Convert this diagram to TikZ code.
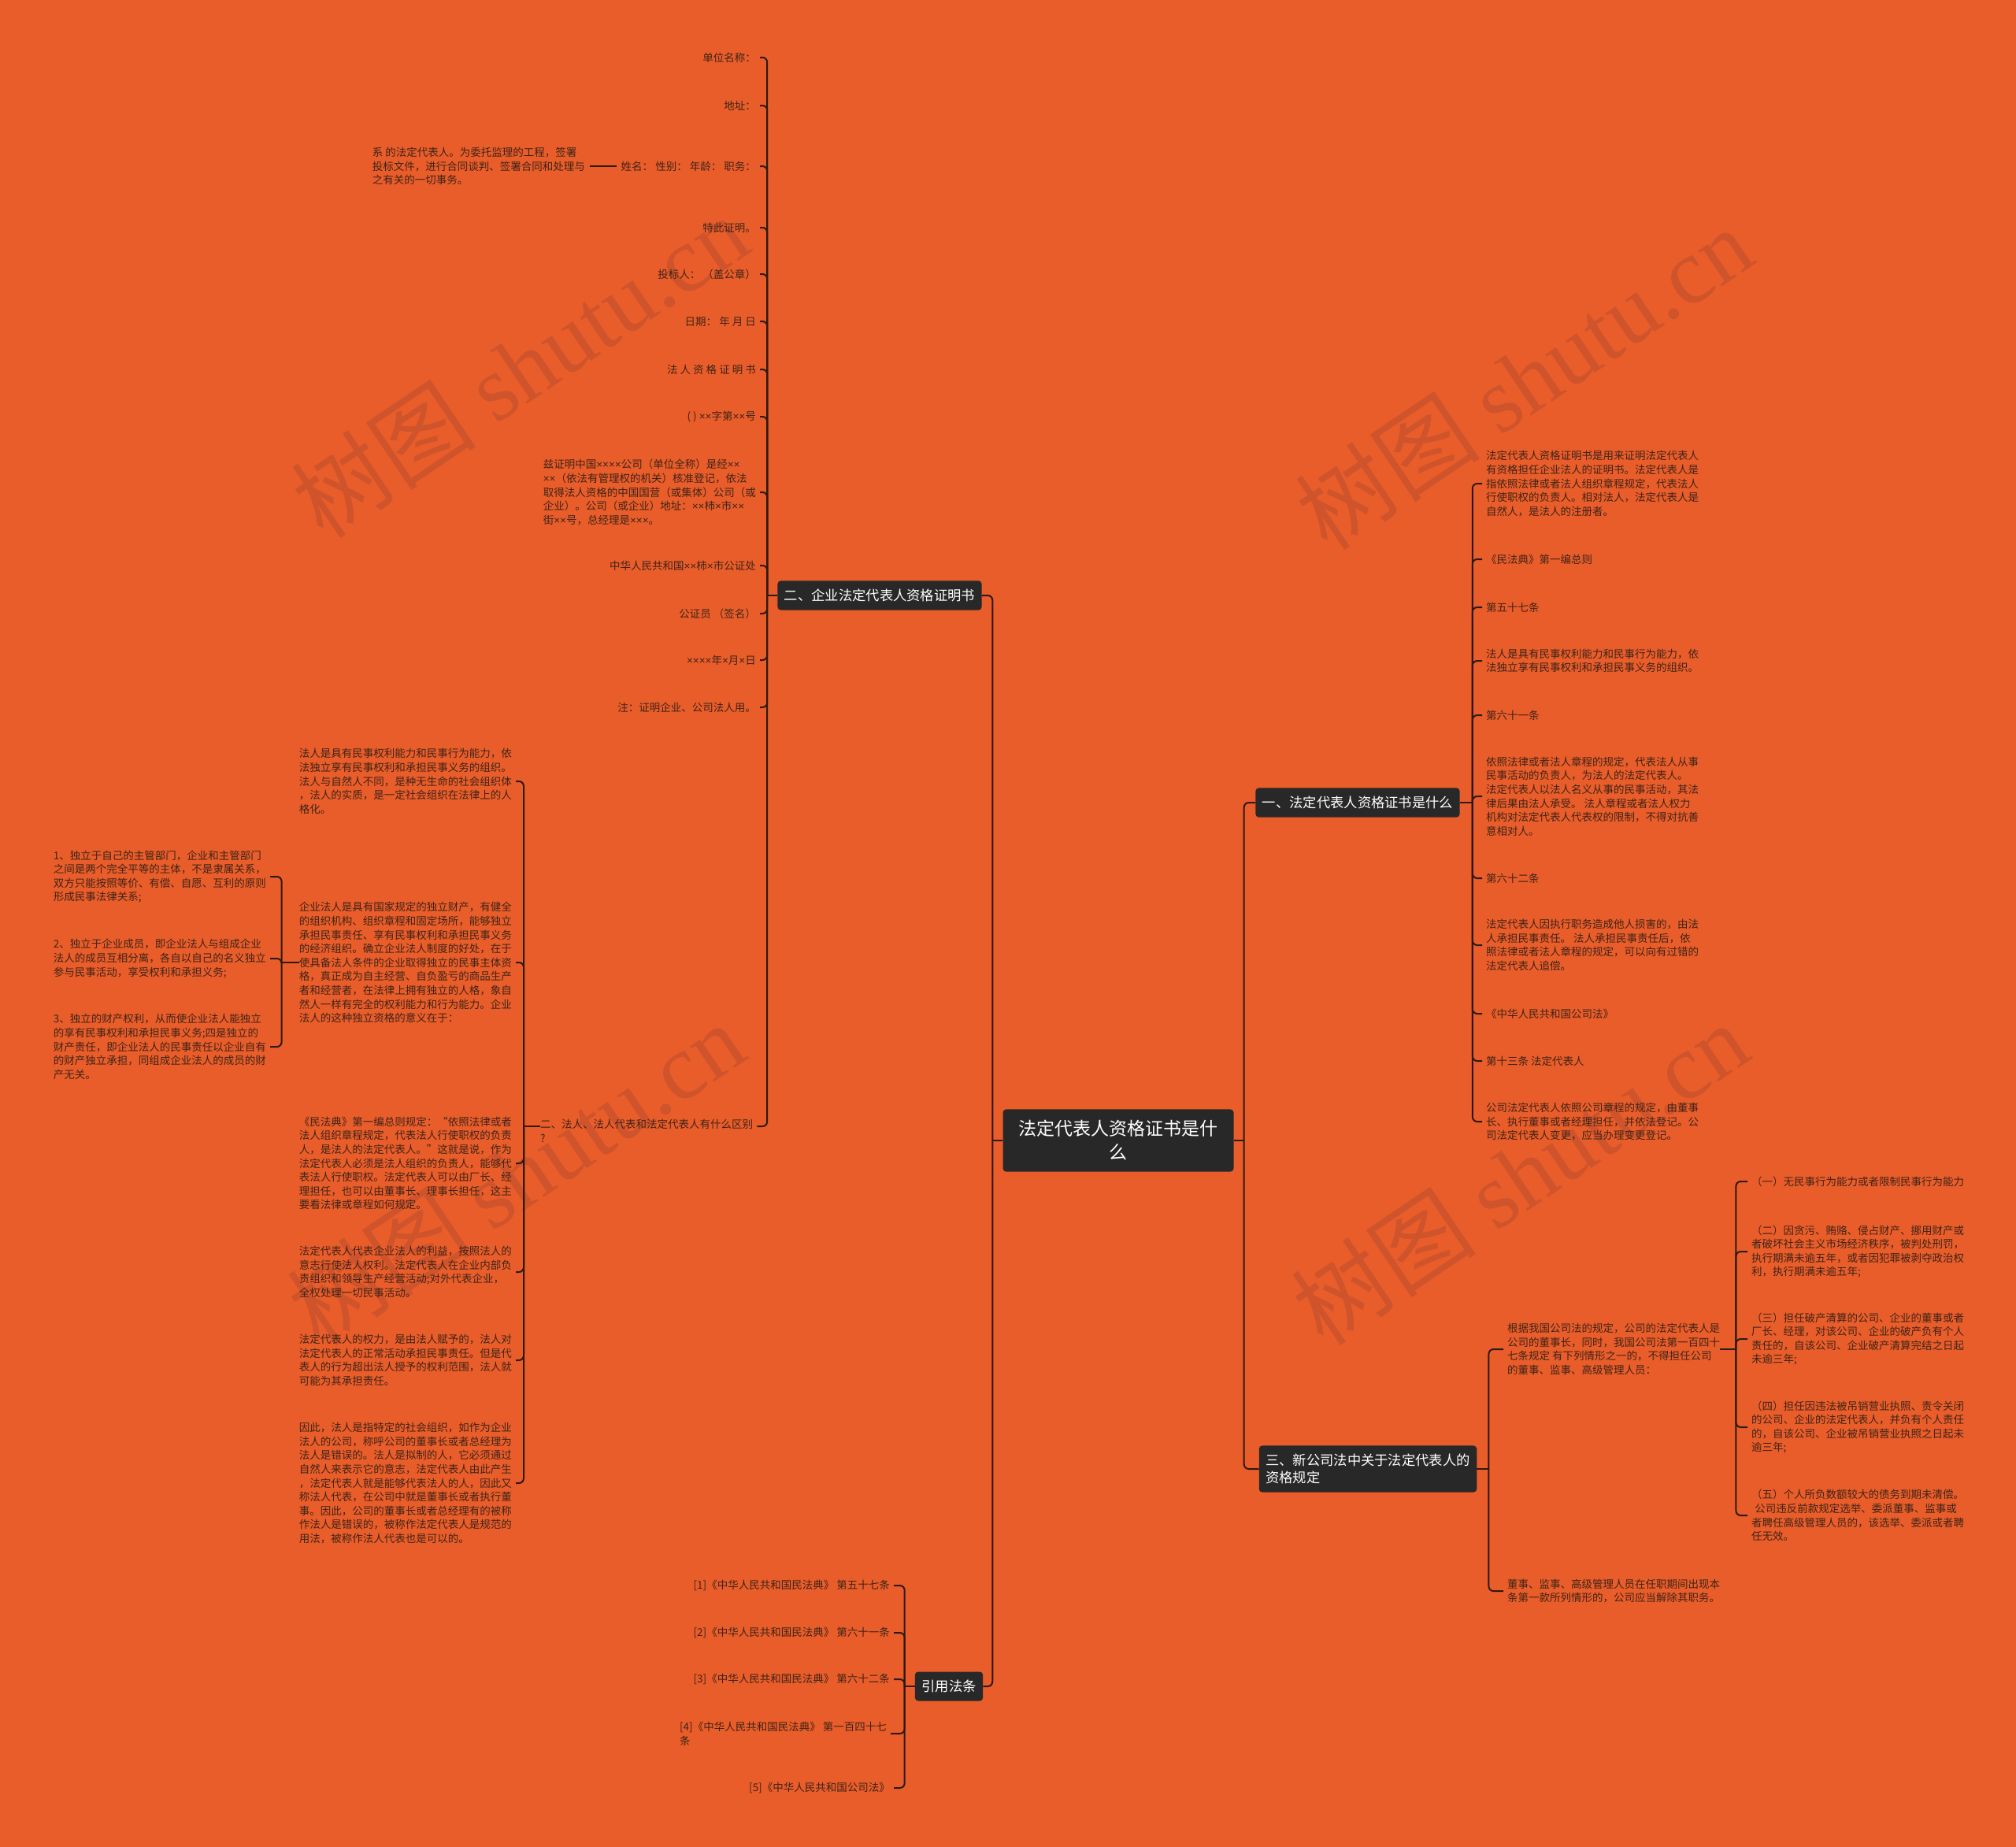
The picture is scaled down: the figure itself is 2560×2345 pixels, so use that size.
\documentclass[tikz,border=0pt]{standalone}
\usepackage{fontspec}
\setmainfont{Noto Sans CJK SC}
\newfontfamily\wmlatin{Liberation Serif}
\newfontfamily\latinx{Liberation Sans}
\definecolor{bgc}{RGB}{233,93,42}
\definecolor{boxc}{RGB}{40,40,40}
\definecolor{linec}{RGB}{45,25,18}
\definecolor{txtc}{RGB}{62,36,24}
\definecolor{wmc}{RGB}{207,84,44}
\newcommand{\leaffont}{\fontsize{13.5}{17.6}\selectfont}
\newcommand{\xx}{{\latinx ×}}

\begin{document}
\begin{tikzpicture}[x=1pt,y=-1pt,
  leaf/.style={text=txtc,font=\leaffont,inner sep=0pt,align=left},
  branch/.style={fill=boxc,text=white,rounded corners=4pt,inner xsep=8.5pt,inner ysep=10.5pt,
    font=\fontsize{17.3}{22}\selectfont,align=left},
  link/.style={draw=linec,line width=2pt,rounded corners=6pt},
  wm/.style={text=wmc,font=\fontsize{118}{118}\selectfont,rotate=34}]
\useasboundingbox (0,0) rectangle (2560,2345);
\fill[bgc] (0,0) rectangle (2560,2345);

% watermarks
\node[wm] (wm1) at (660,465) {树图 {\wmlatin shutu.cn}};
\node[wm] (wm2) at (1935,480) {树图 {\wmlatin shutu.cn}};
\node[wm] (wm3) at (655,1490) {树图 {\wmlatin shutu.cn}};
\node[wm] (wm4) at (1930,1490) {树图 {\wmlatin shutu.cn}};

% centre and main branches
\node[branch,font=\fontsize{23}{30}\selectfont,align=center,inner xsep=20pt,inner ysep=14pt] (cen) at (1420,1448) {法定代表人资格证书是什\\么};
\node[branch] (b1) at (1724,1019) {一、法定代表人资格证书是什么};
\node[branch] (b2) at (1117,756) {二、企业法定代表人资格证明书};
\node[branch] (b3) at (1737,1865) {三、新公司法中关于法定代表人的\\资格规定};
\node[branch] (b4) at (1205,2141) {引用法条};

% branch 2
\node[leaf,left] (a1) at (960,73) {单位名称：};
\node[leaf,left] (a2) at (960,134) {地址：};
\node[leaf,left] (a3) at (960,211) {姓名： 性别： 年龄： 职务：};
\node[leaf,left] (xi) at (743,211) {系 的法定代表人。为委托监理的工程，签署\\投标文件，进行合同谈判、签署合同和处理与\\之有关的一切事务。};
\node[leaf,left] (a4) at (960,289) {特此证明。};
\node[leaf,left] (a5) at (960,348) {投标人： （盖公章）};
\node[leaf,left] (a6) at (960,408) {日期： 年 月 日};
\node[leaf,left] (a7) at (960,469) {法 人 资 格 证 明 书};
\node[leaf,left] (a8) at (960,529) {( ) \xx\xx 字第\xx\xx 号};
\node[leaf,left] (a9) at (960,625) {兹证明中国\xx\xx\xx\xx 公司（单位全称）是经\xx\xx\\\xx\xx（依法有管理权的机关）核准登记，依法\\取得法人资格的中国国营（或集体）公司（或\\企业）。公司（或企业）地址：\xx\xx 柿\xx 市\xx\xx\\街\xx\xx 号，总经理是\xx\xx\xx。};
\node[leaf,left] (a10) at (960,718) {中华人民共和国\xx\xx 柿\xx 市公证处};
\node[leaf,left] (a11) at (960,779) {公证员 （签名）};
\node[leaf,left] (a12) at (960,838) {\xx\xx\xx\xx 年\xx 月\xx 日};
\node[leaf,left] (a13) at (960,898) {注：证明企业、公司法人用。};
\node[leaf,anchor=north west] (fr2) at (686,1421) {二、法人、法人代表和法定代表人有什么区别\\?};

\node[leaf,left] (c1) at (650,992) {法人是具有民事权利能力和民事行为能力，依\\法独立享有民事权利和承担民事义务的组织。\\法人与自然人不同，是种无生命的社会组织体\\，法人的实质，是一定社会组织在法律上的人\\格化。};
\node[leaf,left] (c2) at (650,1222) {企业法人是具有国家规定的独立财产，有健全\\的组织机构、组织章程和固定场所，能够独立\\承担民事责任、享有民事权利和承担民事义务\\的经济组织。确立企业法人制度的好处，在于\\使具备法人条件的企业取得独立的民事主体资\\格，真正成为自主经营、自负盈亏的商品生产\\者和经营者，在法律上拥有独立的人格，象自\\然人一样有完全的权利能力和行为能力。企业\\法人的这种独立资格的意义在于：};
\node[leaf,left] (c3) at (650,1477) {《民法典》第一编总则规定：“依照法律或者\\法人组织章程规定，代表法人行使职权的负责\\人，是法人的法定代表人。”这就是说，作为\\法定代表人必须是法人组织的负责人，能够代\\表法人行使职权。法定代表人可以由厂长、经\\理担任，也可以由董事长、理事长担任，这主\\要看法律或章程如何规定。};
\node[leaf,left] (c4) at (650,1615) {法定代表人代表企业法人的利益，按照法人的\\意志行使法人权利。法定代表人在企业内部负\\责组织和领导生产经营活动;对外代表企业，\\全权处理一切民事活动。};
\node[leaf,left] (c5) at (650,1727) {法定代表人的权力，是由法人赋予的，法人对\\法定代表人的正常活动承担民事责任。但是代\\表人的行为超出法人授予的权利范围，法人就\\可能为其承担责任。};
\node[leaf,left] (c6) at (650,1883) {因此，法人是指特定的社会组织，如作为企业\\法人的公司，称呼公司的董事长或者总经理为\\法人是错误的。法人是拟制的人，它必须通过\\自然人来表示它的意志，法定代表人由此产生\\，法定代表人就是能够代表法人的人，因此又\\称法人代表，在公司中就是董事长或者执行董\\事。因此，公司的董事长或者总经理有的被称\\作法人是错误的，被称作法定代表人是规范的\\用法，被称作法人代表也是可以的。};

\node[leaf,left] (d1) at (338,1113) {1、独立于自己的主管部门，企业和主管部门\\之间是两个完全平等的主体，不是隶属关系，\\双方只能按照等价、有偿、自愿、互利的原则\\形成民事法律关系;};
\node[leaf,left] (d2) at (338,1217) {2、独立于企业成员，即企业法人与组成企业\\法人的成员互相分离，各自以自己的名义独立\\参与民事活动，享受权利和承担义务;};
\node[leaf,left] (d3) at (338,1329) {3、独立的财产权利，从而使企业法人能独立\\的享有民事权利和承担民事义务;四是独立的\\财产责任，即企业法人的民事责任以企业自有\\的财产独立承担，同组成企业法人的成员的财\\产无关。};

% branch 1
\node[leaf,right] (e1) at (1887,614) {法定代表人资格证明书是用来证明法定代表人\\有资格担任企业法人的证明书。法定代表人是\\指依照法律或者法人组织章程规定，代表法人\\行使职权的负责人。相对法人，法定代表人是\\自然人，是法人的注册者。};
\node[leaf,right] (e2) at (1887,710) {《民法典》第一编总则};
\node[leaf,right] (e3) at (1887,771) {第五十七条};
\node[leaf,right] (e4) at (1887,839) {法人是具有民事权利能力和民事行为能力，依\\法独立享有民事权利和承担民事义务的组织。};
\node[leaf,right] (e5) at (1887,908) {第六十一条};
\node[leaf,right] (e6) at (1887,1011) {依照法律或者法人章程的规定，代表法人从事\\民事活动的负责人，为法人的法定代表人。\\法定代表人以法人名义从事的民事活动，其法\\律后果由法人承受。 法人章程或者法人权力\\机构对法定代表人代表权的限制，不得对抗善\\意相对人。};
\node[leaf,right] (e7) at (1887,1115) {第六十二条};
\node[leaf,right] (e8) at (1887,1200) {法定代表人因执行职务造成他人损害的，由法\\人承担民事责任。 法人承担民事责任后，依\\照法律或者法人章程的规定，可以向有过错的\\法定代表人追偿。};
\node[leaf,right] (e9) at (1887,1287) {《中华人民共和国公司法》};
\node[leaf,right] (e10) at (1887,1347) {第十三条 法定代表人};
\node[leaf,right] (e11) at (1887,1424) {公司法定代表人依照公司章程的规定，由董事\\长、执行董事或者经理担任，并依法登记。公\\司法定代表人变更，应当办理变更登记。};

% branch 3
\node[leaf,right] (f1) at (1914,1713) {根据我国公司法的规定，公司的法定代表人是\\公司的董事长，同时，我国公司法第一百四十\\七条规定 有下列情形之一的，不得担任公司\\的董事、监事、高级管理人员：};
\node[leaf,right] (f2) at (1914,2020) {董事、监事、高级管理人员在任职期间出现本\\条第一款所列情形的，公司应当解除其职务。};
\node[leaf,right] (g1) at (2224,1500) {（一）无民事行为能力或者限制民事行为能力};
\node[leaf,right] (g2) at (2224,1589) {（二）因贪污、贿赂、侵占财产、挪用财产或\\者破坏社会主义市场经济秩序，被判处刑罚，\\执行期满未逾五年，或者因犯罪被剥夺政治权\\利，执行期满未逾五年;};
\node[leaf,right] (g3) at (2224,1700) {（三）担任破产清算的公司、企业的董事或者\\厂长、经理，对该公司、企业的破产负有个人\\责任的，自该公司、企业破产清算完结之日起\\未逾三年;};
\node[leaf,right] (g4) at (2224,1812) {（四）担任因违法被吊销营业执照、责令关闭\\的公司、企业的法定代表人，并负有个人责任\\的，自该公司、企业被吊销营业执照之日起未\\逾三年;};
\node[leaf,right] (g5) at (2224,1924) {（五）个人所负数额较大的债务到期未清偿。\\\hspace{0.3em}公司违反前款规定选举、委派董事、监事或\\者聘任高级管理人员的，该选举、委派或者聘\\任无效。};

% cited articles
\node[leaf,left] (h1) at (1130,2013) {[1]《中华人民共和国民法典》 第五十七条};
\node[leaf,left] (h2) at (1130,2073) {[2]《中华人民共和国民法典》 第六十一条};
\node[leaf,left] (h3) at (1130,2132) {[3]《中华人民共和国民法典》 第六十二条};
\node[leaf,left] (h4) at (1126,2201) {[4]《中华人民共和国民法典》 第一百四十七\\条};
\node[leaf,left] (h5) at (1130,2270) {[5]《中华人民共和国公司法》};

% connectors
\draw[link] (cen.west) -- ++(-13,0) coordinate (jl);
\draw[link] (jl) |- (b2.east);
\draw[link] (jl) |- (b4.east);
\draw[link] (cen.east) -- ++(13,0) coordinate (jr);
\draw[link] (jr) |- (b1.west);
\draw[link] (jr) |- (b3.west);

\draw[link] (b2.west) -- ++(-13,0) coordinate (j2);
\foreach \n in {a1,a2,a3,a4,a5,a6,a7,a8,a9,a10,a11,a12,a13}
  \draw[link,shorten >=5pt] (j2) |- (\n.east);
\draw[link,shorten >=5pt] (j2) |- ([yshift=-9pt]fr2.north east);
\draw[link,shorten <=6pt,shorten >=6pt] (a3.west) -- (xi.east);

\draw[link] ([yshift=-9pt]fr2.north west) -- ++(-21,0) coordinate (j5);
\foreach \n in {c1,c2,c3,c4,c5,c6}
  \draw[link,shorten >=5pt] (j5) |- (\n.east);
\draw[link] (c2.west) -- ++(-22,0) coordinate (j6);
\foreach \n in {d1,d2,d3}
  \draw[link,shorten >=5pt] (j6) |- (\n.east);

\draw[link] (b1.east) -- ++(16,0) coordinate (j1);
\foreach \n in {e1,e2,e3,e4,e5,e6,e7,e8,e9,e10,e11}
  \draw[link,shorten >=5pt] (j1) |- (\n.west);

\draw[link] (b3.east) -- ++(15,0) coordinate (j3);
\foreach \n in {f1,f2}
  \draw[link,shorten >=5pt] (j3) |- (\n.west);
\draw[link] (f1.east) -- ++(20,0) coordinate (j7);
\foreach \n in {g1,g2,g3,g4,g5}
  \draw[link,shorten >=5pt] (j7) |- (\n.west);

\draw[link] (b4.west) -- ++(-13,0) coordinate (j4);
\foreach \n in {h1,h2,h3,h4,h5}
  \draw[link,shorten >=5pt] (j4) |- (\n.east);
\end{tikzpicture}
\end{document}
